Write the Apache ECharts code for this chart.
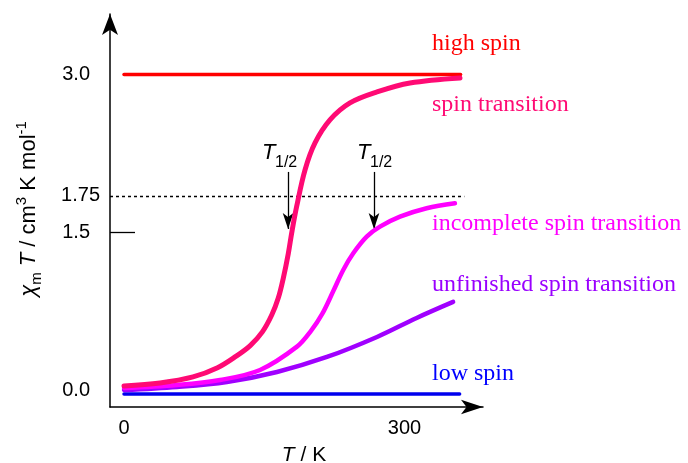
<!DOCTYPE html>
<html><head><meta charset="utf-8">
<script src="https://cdn.jsdelivr.net/npm/echarts@6/dist/echarts.min.js"></script>
<style>html,body{margin:0;padding:0;background:#fff}#c{width:688px;height:463px}</style>
</head><body><div id="c"></div>
<script>
// ---- data ----
const highT = [0, 360];
const highV = [3.0, 3.0];
const lowT = [0, 359];
const lowV = [-0.028, -0.028];
const spinT = [0, 38.5, 73.8, 100, 120, 135, 148, 158, 165, 170.4, 175.7, 179.4, 184.7, 193.6, 204.3, 220.3, 241.7, 270.6, 305.9, 359.4];
const spinV = [0.047, 0.076, 0.133, 0.22, 0.33, 0.43, 0.56, 0.72, 0.88, 1.07, 1.30, 1.50, 1.75, 2.095, 2.351, 2.569, 2.730, 2.834, 2.919, 2.967];
const incT = [0, 56.7, 102.7, 145.5, 185, 200, 212, 224, 234.5, 245.2, 259.6, 273.8, 295.2, 323.7, 354];
const incV = [0.028, 0.057, 0.104, 0.199, 0.42, 0.57, 0.73, 0.95, 1.147, 1.305, 1.463, 1.557, 1.652, 1.732, 1.779];
const unfT = [0, 56.7, 110, 163.6, 217, 270.6, 313, 352];
const unfV = [0.009, 0.038, 0.085, 0.180, 0.322, 0.512, 0.692, 0.844];
const yTickValues = [0, 1.5, 3.0];
const yTickLabels = ['0.0', '1.5', '3.0'];
const xTickValues = [0, 300];
const xTickLabels = ['0', '300'];
const refLevel = 1.85;      // dashed reference line position as drawn
const refLabel = '1.75';
const t12Spin = 175.5;
const t12Inc = 267.4;
const arrowTop = 2.076;
const arrowEnd = 1.535;
const seriesNames = ['high spin', 'spin transition', 'incomplete spin transition', 'unfinished spin transition', 'low spin'];

const zip = (a, b) => a.map((x, i) => [x, b[i]]);
const SANS = 'Liberation Sans';

const chart = echarts.init(document.getElementById('c'), null, {renderer: 'canvas'});

function lineSeries(name, t, v, color, width, z, extra) {
  return Object.assign({
    name, type: 'line', data: zip(t, v), showSymbol: false, symbol: 'none',
    smooth: 0.35, z,
    lineStyle: {color, width, cap: 'round', join: 'round'}, itemStyle: {color}, silent: true
  }, extra || {});
}

const arrowLine = (t) => [{coord: [t, arrowTop]}, {coord: [t, arrowEnd]}];

chart.setOption({
  animation: false,
  grid: {left: 110, right: 205, top: 14, bottom: 56, containLabel: false, outerBoundsMode: 'none'},
  xAxis: {
    type: 'value', min: -15, max: 384,
    axisLine: {show: true, onZero: false, symbol: ['none', 'arrow'], symbolSize: [11, 22], lineStyle: {color: '#000', width: 1.5}},
    axisTick: {show: false},
    splitLine: {show: false},
    axisLabel: {customValues: xTickValues, formatter: (v) => xTickLabels[xTickValues.findIndex(x => Math.abs(x - v) < 1e-6)] || '',
      margin: 11, fontSize: 20, color: '#000', fontFamily: SANS}
  },
  yAxis: {
    type: 'value', min: -0.152, max: 3.573,
    axisLine: {show: true, onZero: false, symbol: ['none', 'arrow'], symbolSize: [12, 21], lineStyle: {color: '#000', width: 1.5}},
    axisTick: {show: true, inside: true, length: 25, customValues: [1.5], lineStyle: {color: '#000', width: 1.3}},
    splitLine: {show: false},
    axisLabel: {customValues: yTickValues, formatter: (v) => yTickLabels[yTickValues.findIndex(x => Math.abs(x - v) < 1e-6)] || '',
      margin: 20, fontSize: 20, color: '#000', fontFamily: SANS}
  },
  series: [
    lineSeries(seriesNames[0], highT, highV, '#ff0000', 3.5, 2, {
      markLine: {
        silent: true, symbol: ['none', 'none'],
        lineStyle: {color: '#000', type: [3, 3], width: 1.3},
        label: {show: true, position: 'start', formatter: refLabel, distance: 10, color: '#000', fontSize: 20, fontFamily: SANS},
        data: [[{coord: [-15, refLevel]}, {coord: [364, refLevel]}]]
      }
    }),
    lineSeries(seriesNames[4], lowT, lowV, '#0000ee', 3.5, 3),
    lineSeries(seriesNames[3], unfT, unfV, '#a000ff', 4.5, 4),
    lineSeries(seriesNames[2], incT, incV, '#ff00ff', 4.5, 5),
    lineSeries(seriesNames[1], spinT, spinV, '#ff0a74', 5, 6, {
      markLine: {
        silent: true, symbol: ['none', 'arrow'], symbolSize: [8, 16],
        lineStyle: {color: '#000', type: 'solid', width: 1.3},
        label: {show: false},
        data: [arrowLine(t12Spin), arrowLine(t12Inc)]
      }
    })
  ],
  graphic: [
    {type: 'text', x: 432, y: 43.5, style: {text: seriesNames[0], fill: '#ff0000', font: '24px "Liberation Serif"', verticalAlign: 'middle'}},
    {type: 'text', x: 432, y: 104.5, style: {text: seriesNames[1], fill: '#ff0a74', font: '24px "Liberation Serif"', verticalAlign: 'middle'}},
    {type: 'text', x: 432, y: 223.4, style: {text: seriesNames[2], fill: '#ff00ff', font: '24px "Liberation Serif"', verticalAlign: 'middle'}},
    {type: 'text', x: 432, y: 284.4, style: {text: seriesNames[3], fill: '#9a00ff', font: '24px "Liberation Serif"', verticalAlign: 'middle'}},
    {type: 'text', x: 432, y: 373.7, style: {text: seriesNames[4], fill: '#0000ff', font: '24px "Liberation Serif"', verticalAlign: 'middle'}},
    // T1/2 labels
    {type: 'text', x: 262, y: 153, style: {text: 'T', fill: '#000', font: 'italic 22px "Liberation Sans"', verticalAlign: 'middle'}},
    {type: 'text', x: 275, y: 162.3, style: {text: '1/2', fill: '#000', font: '16px "Liberation Sans"', verticalAlign: 'middle'}},
    {type: 'text', x: 357, y: 153, style: {text: 'T', fill: '#000', font: 'italic 22px "Liberation Sans"', verticalAlign: 'middle'}},
    {type: 'text', x: 370, y: 162.3, style: {text: '1/2', fill: '#000', font: '16px "Liberation Sans"', verticalAlign: 'middle'}},
    // x axis name
    {type: 'text', x: 304, y: 455, style: {
      text: '{i|T} / K', align: 'center', verticalAlign: 'middle',
      rich: {i: {fontStyle: 'italic', fontSize: 21, fontFamily: SANS, color: '#000'}},
      fontSize: 21, fontFamily: SANS, fill: '#000'}},
    // y axis name
    {type: 'text', x: 29, y: 209, rotation: Math.PI / 2, style: {
      text: '{i|χ}{sub|m}{n| }{i|T}{n| / cm}{sup|3}{n| K mol}{sup|-1}', align: 'center', verticalAlign: 'middle',
      rich: {
        i: {fontStyle: 'italic', fontSize: 22, fontFamily: SANS, color: '#000', lineHeight: 30},
        n: {fontSize: 22, fontFamily: SANS, color: '#000', lineHeight: 30},
        sub: {fontSize: 15, fontFamily: SANS, color: '#000', lineHeight: 15, verticalAlign: 'bottom'},
        sup: {fontSize: 15, fontFamily: SANS, color: '#000', lineHeight: 15, verticalAlign: 'top'}
      },
      fill: '#000'}}
  ]
});
</script>
</body></html>
